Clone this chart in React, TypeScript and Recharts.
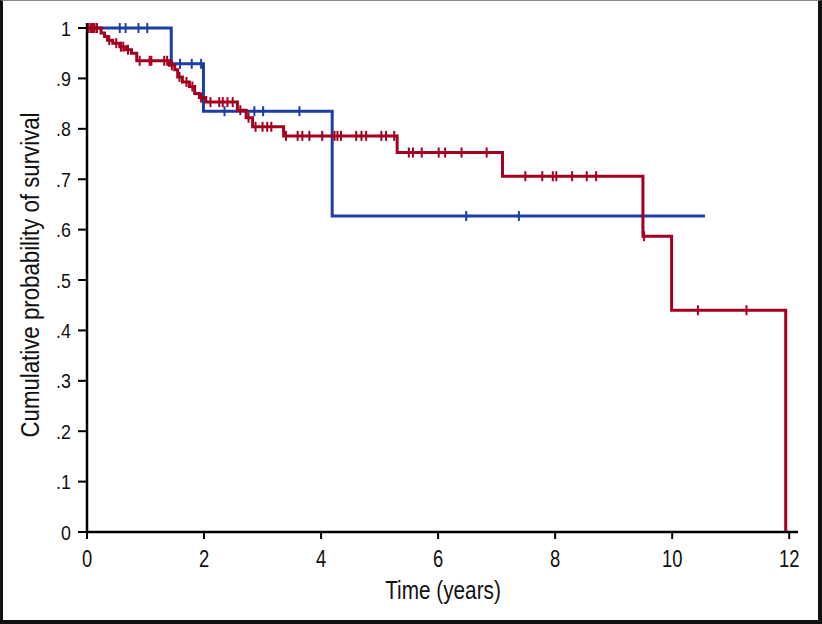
import { ComposedChart, Line, Scatter, XAxis, YAxis, Label } from 'recharts';

// Kaplan-Meier steps: time (years) and survival after each event
const redTimes = [0, 0.24, 0.3, 0.35, 0.44, 0.56, 0.66, 0.76, 0.85, 1.41, 1.5, 1.55, 1.63, 1.75, 1.84, 1.92, 2.03, 2.57, 2.72, 2.83, 3.36, 5.3, 7.1, 9.5, 9.99, 11.94];
const redSurvival = [1, 0.99, 0.983, 0.976, 0.97, 0.963, 0.957, 0.95, 0.935, 0.926, 0.917, 0.903, 0.893, 0.884, 0.87, 0.862, 0.853, 0.837, 0.822, 0.804, 0.786, 0.753, 0.706, 0.587, 0.44, 0];
const redCensored = [
  0.03, 0.07, 0.1, 0.13, 0.17, 0.38, 0.5, 0.58, 0.62, 0.7, 0.9, 1.07, 1.1, 1.32, 1.37,
  1.45, 1.58, 1.7, 1.8, 1.95, 2.11, 2.26, 2.32, 2.4, 2.49, 2.62, 2.76, 2.88, 3.0, 3.08, 3.15,
  3.4, 3.6, 3.68, 3.8, 4.02, 4.23, 4.28, 4.34, 4.6, 4.69, 4.77, 5.03, 5.11, 5.25,
  5.5, 5.57, 5.72, 6.01, 6.12, 6.4, 6.83, 7.49, 7.78, 7.96, 8.02, 8.29, 8.54, 8.7,
  9.52, 10.44, 11.27,
];

const blueTimes = [0, 1.44, 1.99, 4.19, 10.56];
const blueSurvival = [1, 0.929, 0.835, 0.627, 0.627];
const blueCensored = [0.56, 0.66, 0.88, 1.03, 1.59, 1.79, 1.95, 2.35, 2.86, 3.01, 3.63, 6.48, 7.38];

const xTicks = [0, 2, 4, 6, 8, 10, 12];
const yTicks = [0, 0.1, 0.2, 0.3, 0.4, 0.5, 0.6, 0.7, 0.8, 0.9, 1];

const RED = '#a3001f';
const BLUE = '#1f3ea3';
const FONT = '"Liberation Sans", Arial, sans-serif';

// survival level of a step curve at time t
function levelAt(times: number[], surv: number[], t: number) {
  let s = surv[0];
  for (let i = 0; i < times.length; i++) {
    if (times[i] <= t) s = surv[i];
  }
  return s;
}

const redData = redTimes.map((t, i) => ({ t, s: redSurvival[i] }));
const blueData = blueTimes.map((t, i) => ({ t, s: blueSurvival[i] }));
const redMarks = redCensored.map((t) => ({ t, s: levelAt(redTimes, redSurvival, t) }));
const blueMarks = blueCensored.map((t) => ({ t, s: levelAt(blueTimes, blueSurvival, t) }));

const fmtY = (v: number) => (v === 0 ? '0' : v === 1 ? '1' : v.toFixed(1).replace(/^0/, ''));

function censorMark(color: string) {
  return (props: any) => (
    <line x1={props.cx} x2={props.cx} y1={props.cy - 5} y2={props.cy + 5} stroke={color} strokeWidth={2} />
  );
}

// condensed look: squeeze text horizontally
function XTick(props: any) {
  const { x, y, payload } = props;
  return (
    <g transform={`translate(${x},${y + 26})`}>
      <text transform="scale(0.8,1)" textAnchor="middle" fill="#111" fontSize={23} fontFamily={FONT}>
        {payload.value}
      </text>
    </g>
  );
}

function YTick(props: any) {
  const { x, y, payload } = props;
  return (
    <g transform={`translate(${x - 5},${y + 7.5})`}>
      <text transform="scale(0.85,1)" textAnchor="end" fill="#111" fontSize={21} fontFamily={FONT}>
        {fmtY(payload.value)}
      </text>
    </g>
  );
}

export default function App() {
  return (
    <div style={{ position: 'relative', width: 822, height: 624, background: '#fff' }}>
      <style>{`body{margin:0}`}</style>
      <ComposedChart width={822} height={624} margin={{ top: 23, right: 24, bottom: 0, left: 0 }}>
        <XAxis
          dataKey="t"
          type="number"
          domain={[0, 12.15]}
          ticks={xTicks}
          allowDuplicatedCategory={false}
          height={92}
          axisLine={{ stroke: '#000', strokeWidth: 2.5 }}
          tickLine={{ stroke: '#000', strokeWidth: 2 }}
          tickSize={7}
          tick={<XTick />}
        >
          <Label
            content={() => (
              <g transform="translate(443,599)">
                <text transform="scale(0.83,1)" textAnchor="middle" fill="#111" fontSize={25} fontFamily={FONT}>
                  Time (years)
                </text>
              </g>
            )}
          />
        </XAxis>
        <YAxis
          type="number"
          domain={[0, 1.01]}
          ticks={yTicks}
          width={87}
          axisLine={{ stroke: '#000', strokeWidth: 2.5 }}
          tickLine={{ stroke: '#000', strokeWidth: 2 }}
          tickSize={9}
          tick={<YTick />}
        >
          <Label
            content={() => (
              <g transform="translate(39,275) rotate(-90)">
                <text transform="scale(0.89,1)" textAnchor="middle" fill="#111" fontSize={25} fontFamily={FONT}>
                  Cumulative probability of survival
                </text>
              </g>
            )}
          />
        </YAxis>
        <Line data={blueData} dataKey="s" type="stepAfter" stroke={BLUE} strokeWidth={3} dot={false} isAnimationActive={false} />
        <Line data={redData} dataKey="s" type="stepAfter" stroke={RED} strokeWidth={3} dot={false} isAnimationActive={false} />
        <Scatter data={blueMarks} dataKey="s" shape={censorMark(BLUE)} isAnimationActive={false} />
        <Scatter data={redMarks} dataKey="s" shape={censorMark(RED)} isAnimationActive={false} />
      </ComposedChart>
      <div
        style={{
          position: 'absolute',
          left: 0,
          top: 0,
          width: 822,
          height: 624,
          boxSizing: 'border-box',
          borderLeft: '3px solid #111',
          borderRight: '4px solid #111',
          borderBottom: '4px solid #111',
          borderTop: '1px solid #888',
          pointerEvents: 'none',
        }}
      />
    </div>
  );
}
